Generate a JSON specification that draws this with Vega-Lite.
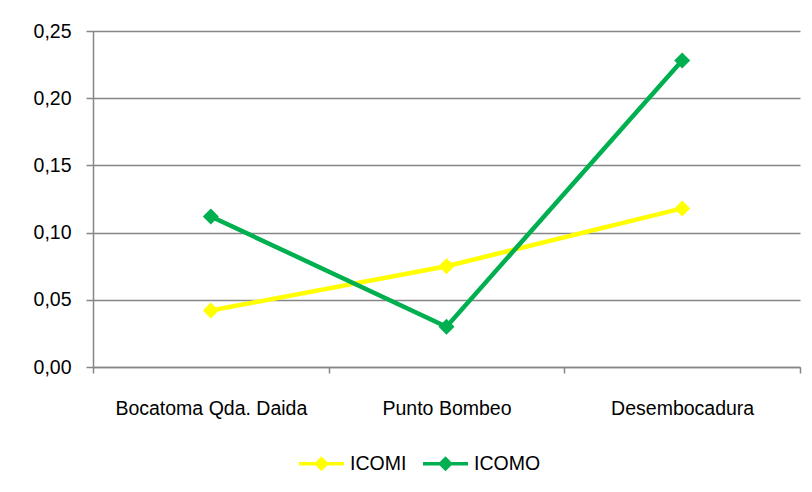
{
  "$schema": "https://vega.github.io/schema/vega-lite/v6.json",
  "width": 707,
  "height": 336,
  "autosize": {"type": "none"},
  "padding": {"left": 93, "top": 31, "right": 12, "bottom": 125},
  "background": "white",
  "config": {
    "locale": {"number": {"decimal": ",", "thousands": ".", "grouping": [3], "currency": ["", "€"]}},
    "view": {"stroke": null},
    "font": "Liberation Sans"
  },
  "data": {
    "values": [
      {"site": "Bocatoma Qda. Daida", "serie": "ICOMI", "value": 0.042},
      {"site": "Punto Bombeo", "serie": "ICOMI", "value": 0.075},
      {"site": "Desembocadura", "serie": "ICOMI", "value": 0.118},
      {"site": "Bocatoma Qda. Daida", "serie": "ICOMO", "value": 0.112},
      {"site": "Punto Bombeo", "serie": "ICOMO", "value": 0.030},
      {"site": "Desembocadura", "serie": "ICOMO", "value": 0.228}
    ]
  },
  "encoding": {
    "x": {
      "field": "site", "type": "nominal", "sort": null,
      "scale": {"paddingInner": 0, "paddingOuter": 0},
      "axis": {
        "title": null, "labelAngle": 0, "tickBand": "extent", "labelLimit": 0,
        "domainColor": "#868686", "domainWidth": 1.5,
        "tickColor": "#868686", "tickWidth": 1.5, "tickSize": 6,
        "labelFont": "Liberation Sans", "labelFontSize": 19.5, "labelColor": "#000000",
        "labelPadding": 26
      }
    },
    "y": {
      "field": "value", "type": "quantitative",
      "scale": {"domain": [0, 0.25], "nice": false},
      "axis": {
        "title": null, "values": [0, 0.05, 0.1, 0.15, 0.2, 0.25], "format": ".2f",
        "domainColor": "#868686", "domainWidth": 1.5,
        "tickColor": "#868686", "tickWidth": 1.5, "tickSize": 7,
        "gridColor": "#868686", "gridWidth": 1.5,
        "labelFont": "Liberation Sans", "labelFontSize": 19.5, "labelColor": "#000000",
        "labelPadding": 15
      }
    },
    "color": {
      "field": "serie", "type": "nominal",
      "scale": {"domain": ["ICOMI", "ICOMO"], "range": ["#FFFF00", "#00B050"]},
      "legend": {
        "title": null, "orient": "none", "direction": "horizontal",
        "legendX": 204, "legendY": 408,
        "padding": 0,
        "symbolType": "M-1,0H1M0,-0.22L0.22,0L0,0.22L-0.22,0Z",
        "symbolSize": 2025, "symbolStrokeWidth": 3.5,
        "labelFont": "Liberation Sans", "labelFontSize": 19.5, "labelColor": "#000000",
        "labelOffset": 4, "columnPadding": 9,
        "encode": {
          "symbols": {"update": {"fill": {"scale": "color", "field": "value"}, "stroke": {"scale": "color", "field": "value"}, "opacity": {"value": 1}}}
        }
      }
    }
  },
  "layer": [
    {"mark": {"type": "line", "strokeWidth": 4.5}},
    {"mark": {"type": "point", "shape": "diamond", "filled": true, "size": 256, "opacity": 1}}
  ]
}
